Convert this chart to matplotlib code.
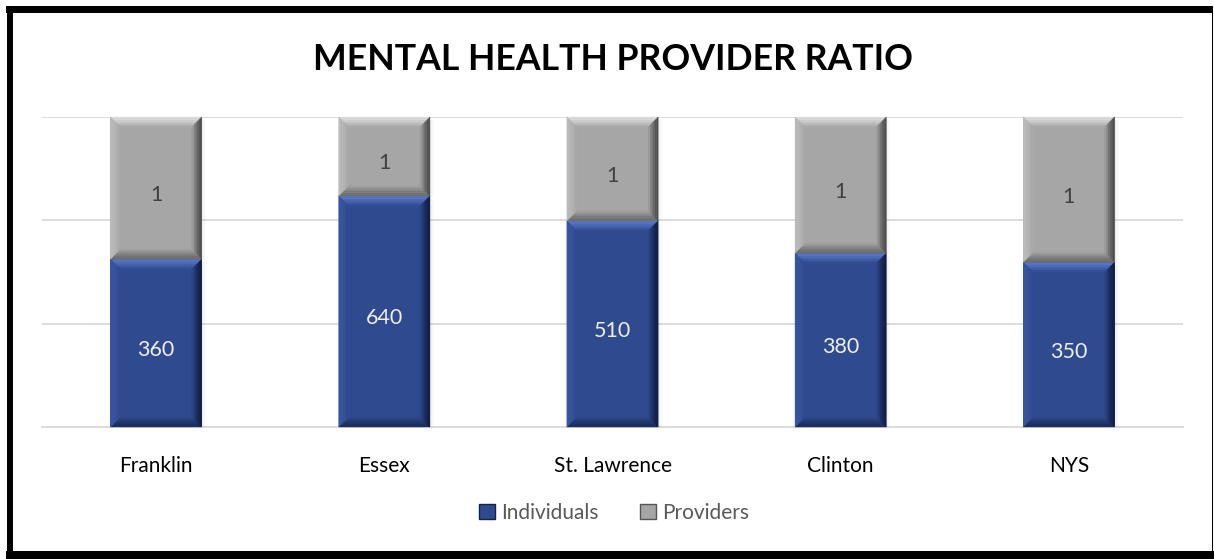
import numpy as np
import matplotlib
matplotlib.use("Agg")
import matplotlib.pyplot as plt
from matplotlib.patches import Polygon, Rectangle
from matplotlib.transforms import IdentityTransform
from matplotlib.colors import to_rgb

# ---- data ----
regions = ["Franklin", "Essex", "St. Lawrence", "Clinton", "NYS"]
individuals = [360, 640, 510, 380, 350]
providers = [1, 1, 1, 1, 1]
series_names = ["Individuals", "Providers"]
title = "MENTAL HEALTH PROVIDER RATIO"

# value scale (log) on which individuals are drawn; providers fill to the top
scale_min, scale_max = 78, 1313

blue = "#2f4a8e"
grey = "#a6a6a6"
label_font = ["Lato", "DejaVu Sans"]

W, H = 1214, 559
fig = plt.figure(figsize=(W / 100, H / 100), dpi=100)
fig.patch.set_facecolor("white")

ax = fig.add_axes([42 / W, 1 - 427 / H, 1141 / W, 310 / H])
ax.set_yscale("log")
ax.set_ylim(scale_min, scale_max)
ax.set_xlim(-0.5, len(regions) - 0.5)
ax.set_facecolor("none")
for s in ["top", "left", "right"]:
    ax.spines[s].set_visible(False)
ax.spines["bottom"].set_color("#d9d9d9")
ax.spines["bottom"].set_linewidth(1.3)
ax.yaxis.set_visible(False)
ax.minorticks_off()
ax.set_xticks(range(len(regions)))
ax.set_xticklabels(regions, fontfamily=label_font, fontsize=15, color="#000000")
ax.tick_params(axis="x", length=0, pad=21)

# horizontal gridlines
for f in [1 / 3, 2 / 3, 1.0]:
    ax.plot([0, 1], [f, f], transform=ax.transAxes, color="#d9d9d9", lw=1.3, zorder=0)

x = np.arange(len(regions))
ind = np.array(individuals, dtype=float)
bars_ind = ax.bar(x, ind - scale_min, bottom=scale_min, width=0.4, color=blue,
                  zorder=2, label=series_names[0])
bars_prov = ax.bar(x, scale_max - ind, bottom=ind, width=0.4, color=grey,
                   zorder=2, label=series_names[1])

# title, sized to a fixed pixel width
ttl = fig.text(613 / W, 1 - 59 / H, title, ha="center", va="center",
               fontfamily=label_font, fontweight="bold", fontsize=28, color="black")
fig.canvas.draw()
tw = ttl.get_window_extent().width
ttl.set_fontsize(28 * 600 / tw)
fig.canvas.draw()


def mix(c1, c2, t):
    a, b = np.array(to_rgb(c1)), np.array(to_rgb(c2))
    return tuple(a + (b - a) * t)


def bevel(rect, face, top, left, right, bottom, d=10, n=6):
    bb = rect.get_window_extent()
    x0, y0, x1, y1 = bb.x0, bb.y0, bb.x1, bb.y1
    for i in range(n):
        a, b = d * i / n, d * (i + 1) / n
        t = (i + 0.5) / n
        sides = [
            ([(x0 + a, y1 - a), (x1 - a, y1 - a), (x1 - b, y1 - b), (x0 + b, y1 - b)], top),
            ([(x0 + a, y0 + a), (x1 - a, y0 + a), (x1 - b, y0 + b), (x0 + b, y0 + b)], bottom),
            ([(x0 + a, y0 + a), (x0 + b, y0 + b), (x0 + b, y1 - b), (x0 + a, y1 - a)], left),
            ([(x1 - a, y0 + a), (x1 - b, y0 + b), (x1 - b, y1 - b), (x1 - a, y1 - a)], right),
        ]
        for pts, col in sides:
            c = mix(col, face, t ** 1.5)
            fig.add_artist(Polygon(pts, closed=True, transform=IdentityTransform(),
                                   facecolor=c, edgecolor=c, lw=0.3, zorder=3))
    # soft shadow on right side
    for k in range(4):
        fig.add_artist(Rectangle((x1 + k, y0 - 1), 1, y1 - y0 - 2,
                                 transform=IdentityTransform(),
                                 facecolor=(0.5, 0.5, 0.5, 0.12 * (4 - k) / 4),
                                 edgecolor="none", zorder=1))


for r in bars_ind:
    bevel(r, blue, "#5b78c8", "#3a56a0", "#101c40", "#1a2b5c")
for r in bars_prov:
    bevel(r, grey, "#dedede", "#bdbdbd", "#4a4a4a", "#6a6a6a")

# value labels centred in each segment (nudged slightly down)
for xi, v, p in zip(x, individuals, providers):
    ax.annotate(f"{v}", (xi, np.sqrt(scale_min * v)), xytext=(0, -5),
                textcoords="offset points", ha="center", va="center",
                fontfamily=label_font, fontsize=15.5, color="#eeeeee", zorder=5)
    ax.annotate(f"{p}", (xi, np.sqrt(v * scale_max)), xytext=(0, -5),
                textcoords="offset points", ha="center", va="center",
                fontfamily=label_font, fontsize=15.5, color="#404040", zorder=5)

leg = fig.legend(handles=[bars_ind, bars_prov], labels=series_names,
                 loc="center", bbox_to_anchor=(614 / W, 1 - 513 / H), ncol=2,
                 frameon=False, handlelength=0.75, handleheight=0.75,
                 handletextpad=0.3, columnspacing=2.0,
                 prop={"family": label_font, "size": 15})
for t in leg.get_texts():
    t.set_color("#595959")
for h, ec in zip(leg.legend_handles, ["#16224a", "#555555"]):
    h.set_edgecolor(ec)
    h.set_linewidth(1.0)


# outer frame, as filled strips in pixel coordinates (y measured from top)
def strip(x0, y0, x1, y1):
    fig.add_artist(Rectangle((x0, H - y1), x1 - x0, y1 - y0,
                             transform=IdentityTransform(), facecolor="black",
                             edgecolor="none", zorder=10))


strip(6, 6, 1213, 12.7)      # top
strip(6.5, 6, 13, H)         # left
strip(1211.5, 6, 1213, H)    # right
strip(6, 550.5, W, H)        # bottom

fig.savefig("out.png", dpi=100, facecolor="white")
